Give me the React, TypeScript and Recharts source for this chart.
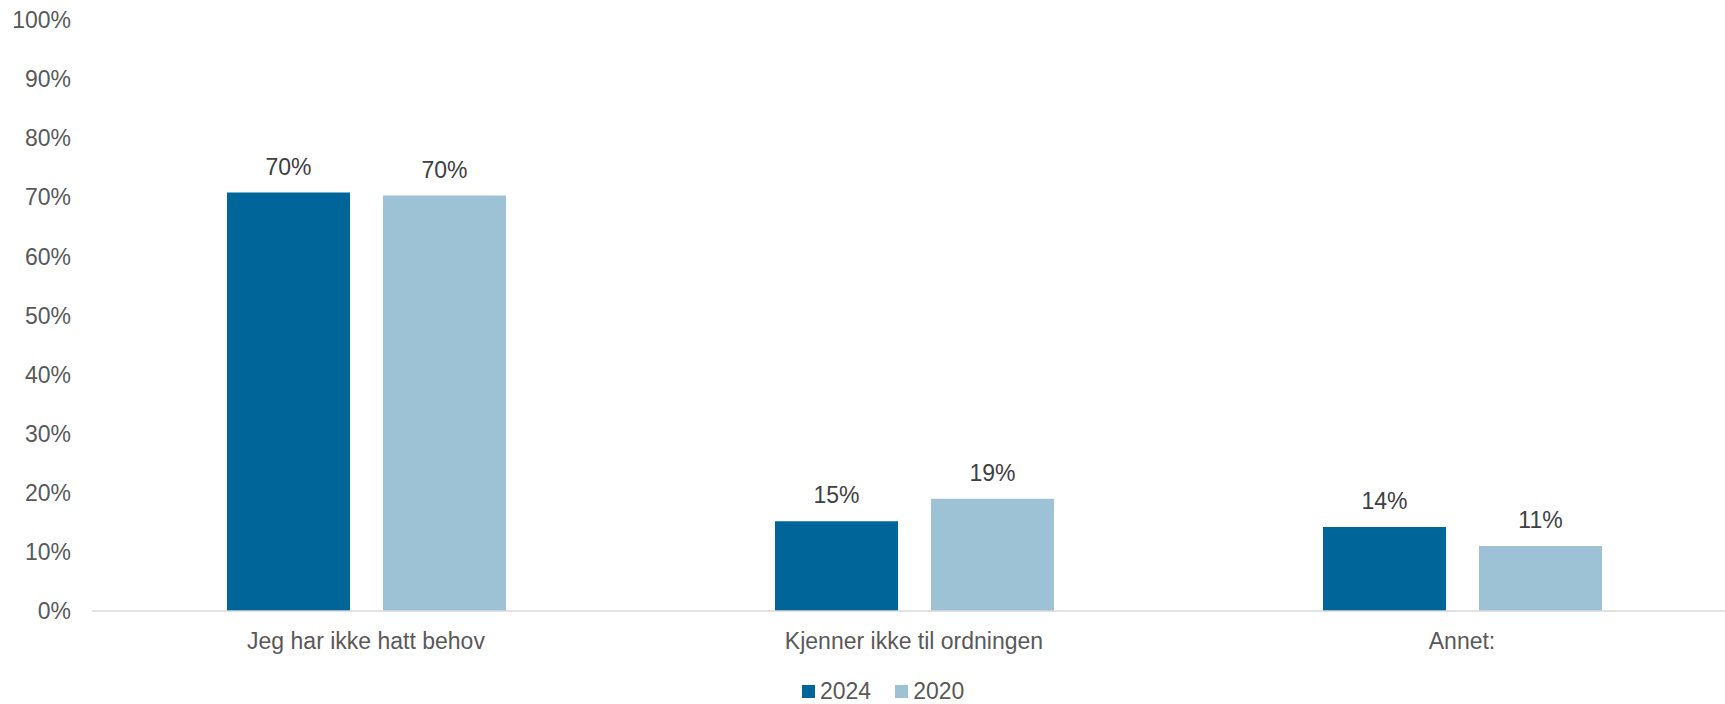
import { Bar, BarChart, LabelList, Legend, XAxis, YAxis } from 'recharts';

// Reasons, 2024 vs 2020 survey
const categories = ['Jeg har ikke hatt behov', 'Kjenner ikke til ordningen', 'Annet:'];
const values2024 = [70.8, 15.2, 14.2];
const values2020 = [70.3, 19.0, 11.0];
const labels2024 = ['70%', '15%', '14%'];
const labels2020 = ['70%', '19%', '11%'];
const yTicks = [0, 10, 20, 30, 40, 50, 60, 70, 80, 90, 100];

const DARK = '#006598';
const LIGHT = '#9DC2D6';
const AXIS_TEXT = '#595959';
const LABEL_TEXT = '#404040';
const FONT = '"Liberation Sans", Arial, sans-serif';

const data = categories.map((name, i) => ({
  name,
  y2024: values2024[i],
  y2020: values2020[i],
  l2024: labels2024[i],
  l2020: labels2020[i],
}));

function LegendContent() {
  const items = [
    { label: '2024', color: DARK },
    { label: '2020', color: LIGHT },
  ];
  return (
    <div
      style={{
        display: 'flex',
        alignItems: 'center',
        height: 22,
        paddingLeft: 802,
        fontFamily: FONT,
        fontSize: 23,
        color: AXIS_TEXT,
      }}
    >
      {items.map((it) => (
        <div key={it.label} style={{ display: 'flex', alignItems: 'center', marginRight: 24 }}>
          <span style={{ width: 13, height: 13, background: it.color, display: 'inline-block', marginRight: 5 }} />
          <span style={{ lineHeight: '22px' }}>{it.label}</span>
        </div>
      ))}
    </div>
  );
}

export default function App() {
  return (
    <div
      style={{
        position: 'absolute',
        left: 0,
        top: 0,
        width: 1725,
        height: 704,
        overflow: 'hidden',
        background: '#fff',
      }}
    >
      <BarChart
        width={1740}
        height={704}
        data={data}
        margin={{ top: 20, right: 4, left: 0, bottom: 21 }}
        barGap={33}
        barSize={123}
      >
        <XAxis
          dataKey="name"
          height={50}
          tickLine={false}
          tickSize={0}
          tickMargin={22}
          axisLine={{ stroke: '#D9D9D9', strokeWidth: 1.5 }}
          tick={{ fill: AXIS_TEXT, fontSize: 23, fontFamily: FONT }}
          interval={0}
        />
        <YAxis
          width={92}
          domain={[0, 100]}
          ticks={yTicks}
          tickFormatter={(v) => `${v}%`}
          tickLine={false}
          tickSize={0}
          tickMargin={21}
          axisLine={false}
          tick={{ fill: AXIS_TEXT, fontSize: 23, fontFamily: FONT }}
          interval={0}
        />
        <Legend
          verticalAlign="bottom"
          content={<LegendContent />}
          wrapperStyle={{ left: 0, width: 1725, top: 680, bottom: 'auto' }}
        />
        <Bar dataKey="y2024" name="2024" fill={DARK} isAnimationActive={false}>
          <LabelList
            dataKey="l2024"
            position="top"
            offset={18}
            style={{ fill: LABEL_TEXT, fontSize: 23, fontFamily: FONT }}
          />
        </Bar>
        <Bar dataKey="y2020" name="2020" fill={LIGHT} isAnimationActive={false}>
          <LabelList
            dataKey="l2020"
            position="top"
            offset={18}
            style={{ fill: LABEL_TEXT, fontSize: 23, fontFamily: FONT }}
          />
        </Bar>
      </BarChart>
    </div>
  );
}
